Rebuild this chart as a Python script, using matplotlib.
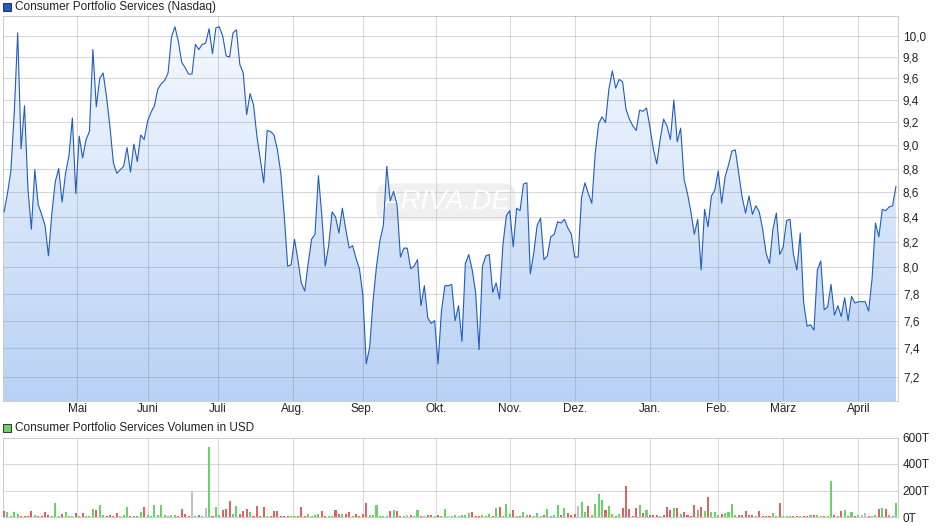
import numpy as np
import matplotlib
matplotlib.use('Agg')
import matplotlib.pyplot as plt
from matplotlib.patches import Rectangle
from matplotlib.ticker import FixedLocator, NullLocator

plt.rcParams['font.family'] = ['Liberation Sans', 'DejaVu Sans']

# daily closing prices (USD), one per trading day
price = [8.44, 8.59, 8.78, 9.29, 10.03, 8.97, 9.35, 8.63, 8.30, 8.79,
         8.50, 8.42, 8.33, 8.09, 8.43, 8.69, 8.80, 8.52, 8.76, 8.91,
         9.24, 8.59, 9.08, 8.89, 9.05, 9.12, 9.87, 9.34, 9.60, 9.65,
         9.43, 9.16, 8.85, 8.76, 8.79, 8.82, 8.98, 8.77, 9.01, 8.86,
         9.09, 9.05, 9.21, 9.29, 9.35, 9.50, 9.55, 9.58, 9.65, 9.99,
         10.09, 9.95, 9.75, 9.70, 9.64, 9.64, 9.92, 9.87, 9.92, 9.93,
         10.07, 9.83, 10.08, 10.09, 10.00, 9.81, 9.80, 10.03, 10.06, 9.73,
         9.65, 9.27, 9.46, 9.36, 9.08, 8.88, 8.68, 9.13, 9.12, 9.09,
         8.96, 8.76, 8.41, 8.01, 8.02, 8.22, 8.06, 7.88, 7.82, 8.03,
         8.22, 8.26, 8.74, 8.41, 8.01, 8.17, 8.44, 8.40, 8.27, 8.47,
         8.30, 8.15, 8.17, 8.07, 7.99, 7.79, 7.29, 7.41, 7.75, 8.01,
         8.21, 8.33, 8.82, 8.53, 8.61, 8.50, 8.08, 8.15, 8.15, 7.99,
         8.01, 8.06, 7.71, 7.86, 7.62, 7.58, 7.60, 7.29, 7.67, 7.86,
         7.86, 7.87, 7.60, 7.71, 7.45, 8.03, 8.10, 7.98, 7.81, 7.39,
         8.01, 8.09, 8.10, 7.81, 7.88, 7.76, 8.18, 8.41, 8.45, 8.16,
         8.47, 8.45, 8.67, 8.68, 7.95, 8.11, 8.33, 8.39, 8.06, 8.09,
         8.24, 8.26, 8.36, 8.35, 8.38, 8.31, 8.26, 8.08, 8.08, 8.56,
         8.68, 8.59, 8.51, 8.93, 9.19, 9.25, 9.20, 9.50, 9.67, 9.51,
         9.59, 9.57, 9.32, 9.23, 9.17, 9.13, 9.31, 9.30, 9.33, 9.16,
         8.97, 8.84, 9.05, 9.23, 9.17, 9.05, 9.40, 9.03, 9.15, 8.71,
         8.59, 8.44, 8.26, 8.38, 7.98, 8.46, 8.32, 8.57, 8.62, 8.78,
         8.51, 8.73, 8.83, 8.95, 8.96, 8.76, 8.56, 8.43, 8.57, 8.42,
         8.49, 8.44, 8.30, 8.11, 8.03, 8.30, 8.43, 8.10, 8.16, 8.37,
         8.38, 8.10, 7.98, 8.27, 7.73, 7.56, 7.57, 7.53, 7.98, 8.05,
         7.68, 7.70, 7.87, 7.64, 7.71, 7.63, 7.77, 7.60, 7.78, 7.73,
         7.74, 7.74, 7.74, 7.67, 7.91, 8.35, 8.24, 8.46, 8.45, 8.48,
         8.49, 8.65]

# daily volume in thousand USD ("T")
volume = [42, 35, 5, 35, 20, 8, 10, 5, 42, 12,
          5, 5, 35, 12, 5, 102, 8, 22, 35, 8,
          8, 28, 8, 28, 8, 8, 60, 50, 88, 12,
          8, 12, 10, 28, 8, 12, 72, 8, 8, 8,
          35, 72, 12, 8, 88, 18, 88, 12, 8, 18,
          12, 8, 58, 20, 8, 195, 5, 12, 5, 65,
          530, 5, 72, 12, 55, 60, 118, 22, 80, 20,
          42, 60, 35, 8, 80, 8, 72, 8, 8, 42,
          42, 8, 8, 8, 10, 5, 5, 72, 5, 20,
          8, 18, 22, 45, 8, 5, 8, 50, 20, 20,
          20, 35, 8, 20, 8, 25, 102, 15, 15, 88,
          10, 10, 10, 45, 50, 42, 8, 10, 12, 12,
          10, 50, 8, 8, 18, 12, 5, 12, 8, 62,
          5, 10, 12, 10, 12, 15, 28,
          35, 5, 5, 12, 8, 25, 8, 65, 72, 8,
          95, 20, 50, 8, 8, 35, 12, 12, 8, 28,
          8, 12, 58, 8, 12, 88, 12, 65, 28, 12,
          22, 80, 110, 38, 80, 12, 95, 170, 132, 50,
          80, 20, 8, 20, 65, 235, 58, 8, 65, 88,
          28, 50, 18, 12, 18, 8, 12, 72, 50, 65,
          65, 20, 35, 12, 10, 88, 50, 72, 42, 148,
          35, 35, 12, 20, 28, 35, 95, 12, 12, 12,
          42, 12, 12, 8, 42, 8, 8, 8, 28, 8,
          102, 8, 8, 8, 8, 8, 8, 8, 8, 12,
          12, 18, 8, 8, 8, 268, 12, 8, 45, 50,
          8, 35, 8, 12, 12, 28, 10, 8, 12, 58,
          65, 58, 12, 10, 102]

# bar colour as seen: g = up, r = down, n = unchanged, ? = not readable
vol_dir = ("rggggrr?rg" "r?rrgg?rgg" "?r?rgggrgg" "?r?r?gg???" "grg?g?gg?g"
           "g?rr?n?r?n" "g?ggrrrggr" "rrg?r?r??r" "rr??g??r?g" "gggr???rrg"
           "rr?r?rrggg" "?g?rgr??nr" "?g??rr?r?g" "??g?ggg"
           "rrrgggrgrg" "ggr?rggr?g" "grg?ggrgrr" "rnggrggggr" "gg?grrr?rg"
           "rgrrr?rrrg" "rgrr?rgrgr" "gggrggggrr" "rrrgr???g?" "r?g??????g"
           "?g???gr?rg" "?g?g?nr?gr" "grg?g")

months = ['Mai', 'Juni', 'Juli', 'Aug.', 'Sep.', 'Okt.', 'Nov.', 'Dez.',
          'Jan.', 'Feb.', 'März', 'April']
month_pos = [21.5, 42, 62.5, 84.5, 105, 126.5, 148, 167, 189, 209, 228, 250]
price_ticks = [7.2, 7.4, 7.6, 7.8, 8.0, 8.2, 8.4, 8.6, 8.8, 9.0, 9.2, 9.4, 9.6, 9.8, 10.0]
vol_ticks = [0, 200, 400, 600]

line_col = '#1f5cc4'
up_col, down_col, flat_col = '#66d466', '#dc6464', '#c0c0c0'
grid_col = '#808080'
txt_col = '#222222'

W, H = 940, 526
fig = plt.figure(figsize=(W / 100, H / 100), dpi=100)


def box(l, t, r, b):
    return [l / W, 1 - b / H, (r - l) / W, (b - t) / H]


ax = fig.add_axes(box(3, 16, 898, 401))
axv = fig.add_axes(box(3, 437.5, 898, 517))

x = np.arange(len(price))
ax.set_yscale('log')

# gradient area under the line
grad = np.linspace(0, 1, 256)[:, None, None]
c_top = np.array([0.97, 0.98, 1.0])
c_bot = np.array([0.72, 0.82, 0.96])
img = c_top + (c_bot - c_top) * grad
im = ax.imshow(img, extent=[0, 1, 0, 1], transform=ax.transAxes,
               aspect='auto', origin='upper', zorder=1)
poly = ax.fill_between(x, price, 1, facecolor='none', edgecolor='none')
im.set_clip_path(poly.get_paths()[0], ax.transData)

ax.plot(x, price, color=line_col, lw=0.8, zorder=3)

# faint watermark
ax.text(446 / W, 1 - 202 / H, 'ARIVA.DE', transform=fig.transFigure,
        ha='center', va='center', fontsize=20, style='italic',
        color='white', alpha=0.95, zorder=2.6,
        bbox=dict(boxstyle='round,pad=0.2,rounding_size=0.4', facecolor='#d0d0d0',
                  edgecolor='none', alpha=0.3))

ax.set_xlim(-0.3, 261.6)
ax.set_ylim(7.033, 10.195)
ax.yaxis.set_major_locator(FixedLocator(price_ticks))
ax.yaxis.set_minor_locator(NullLocator())
ax.set_yticklabels([('%.1f' % t).replace('.', ',') for t in price_ticks])
ax.yaxis.tick_right()
ax.set_xticks(month_pos)
ax.set_xticklabels(months)
ax.tick_params(length=0, labelsize=8.5, colors=txt_col)
ax.tick_params(axis='y', pad=3.5)
ax.tick_params(axis='x', pad=1.5)
ax.set_axisbelow(False)
ax.grid(color=grid_col, alpha=0.3, lw=0.75)

# volume bars
vcol = []
for i, d in enumerate(vol_dir):
    if d == '?':
        if i == 0 or price[i] > price[i - 1]:
            d = 'g'
        elif price[i] < price[i - 1]:
            d = 'r'
        else:
            d = 'n'
    vcol.append({'g': up_col, 'r': down_col, 'n': flat_col}[d])

axv.bar(np.arange(len(volume)), volume, width=0.6, color=vcol, zorder=3)
axv.set_xlim(-0.3, 261.6)
axv.set_ylim(0, 600)
axv.set_yticks(vol_ticks)
axv.set_yticklabels(['%dT' % v for v in vol_ticks])
axv.yaxis.tick_right()
axv.set_xticks(month_pos)
axv.set_xticklabels([])
axv.tick_params(length=0, labelsize=8.5, colors=txt_col, pad=3.5)
axv.grid(color=grid_col, alpha=0.3, lw=0.75, zorder=0)
axv.set_axisbelow(True)

for a in (ax, axv):
    for s in a.spines.values():
        s.set_color('#cccccc')
        s.set_linewidth(0.75)

# legend squares and titles
fig.add_artist(Rectangle((3 / W, 1 - 11 / H), 8 / W, 8 / H, transform=fig.transFigure,
                         facecolor=line_col, edgecolor='#333333', lw=0.7))
fig.text(15 / W, 1 - 7 / H, 'Consumer Portfolio Services (Nasdaq)',
         va='center', ha='left', fontsize=8.5, color=txt_col)
fig.add_artist(Rectangle((3 / W, 1 - 432 / H), 8 / W, 8 / H, transform=fig.transFigure,
                         facecolor=up_col, edgecolor='#333333', lw=0.7))
fig.text(15 / W, 1 - 428 / H, 'Consumer Portfolio Services Volumen in USD',
         va='center', ha='left', fontsize=8.5, color=txt_col)

fig.savefig('out.png', dpi=100)
